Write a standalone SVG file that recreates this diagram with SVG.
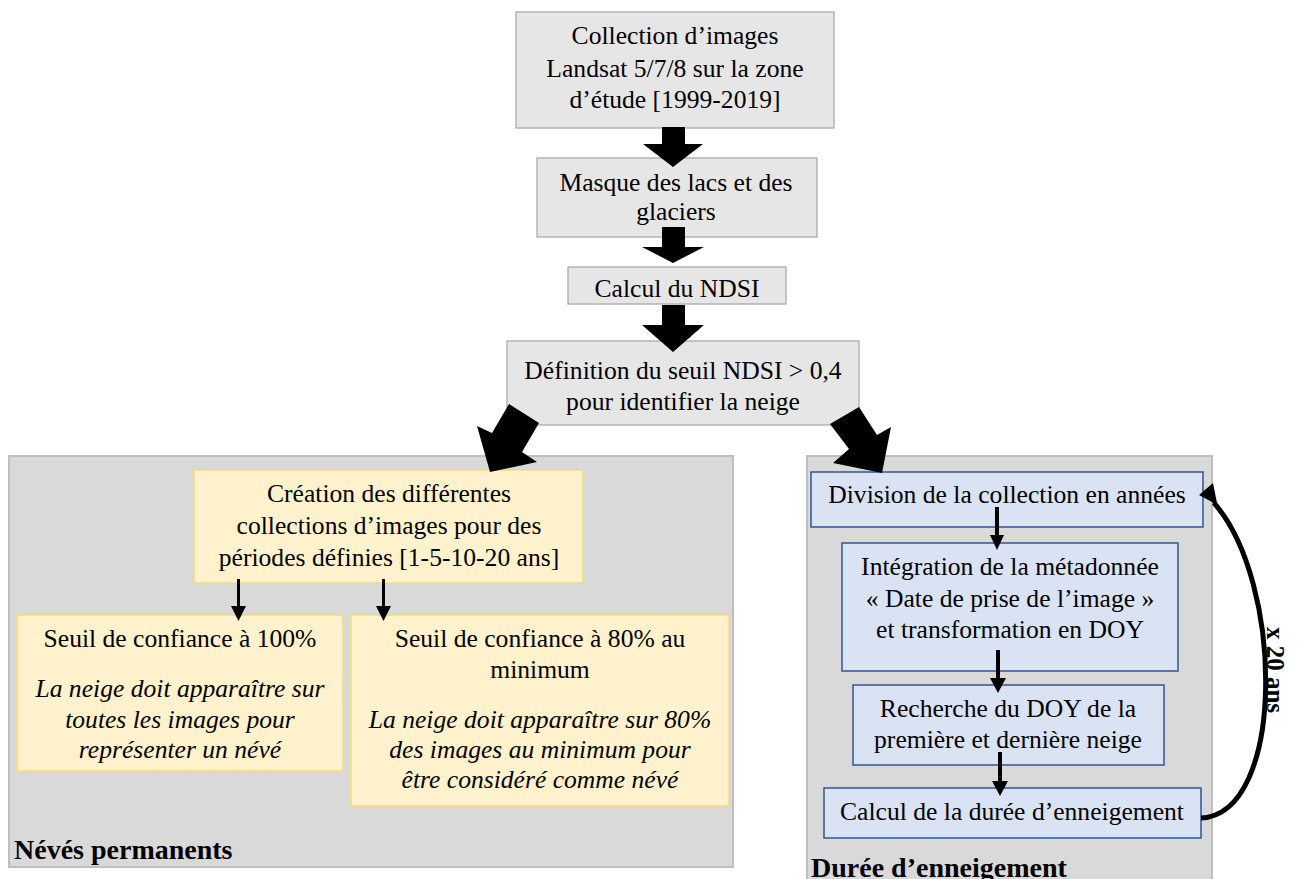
<svg xmlns="http://www.w3.org/2000/svg" width="1299" height="879" viewBox="0 0 1299 879">
<style>
text{font-family:"Liberation Serif","Times New Roman",serif;font-size:25.6px;fill:#000;text-anchor:middle}
.it{font-style:italic}
.b{font-weight:bold;font-size:28px;text-anchor:start}
.grey{fill:#e7e6e6;stroke:#a6a6a6;stroke-width:1.2}
.yel{fill:#fff2cc;stroke:#f9d977;stroke-width:1.5}
.blu{fill:#dae3f3;stroke:#2f5597;stroke-width:1.5}
.panel{fill:#d9d9d9;stroke:#bfbfbf;stroke-width:2}
.blk{fill:#000}
</style>
<rect width="1299" height="879" fill="#fff"/>
<g id="panel-neves">
<rect class="panel" x="9" y="456" width="724" height="411"/>
<text class="b" x="14" y="859">Névés permanents</text>
</g>
<g id="panel-duree">
<rect class="panel" x="807" y="456" width="405" height="440"/>
<text class="b" x="811" y="877">Durée d’enneigement</text>
</g>
<g id="n1">
<rect class="grey" x="516" y="12" width="318" height="116"/>
<text x="675" y="44">Collection d’images</text>
<text x="675" y="77">Landsat 5/7/8 sur la zone</text>
<text x="675" y="108">d’étude [1999-2019]</text>
</g>
<g id="n2">
<rect class="grey" x="537" y="158" width="280" height="79"/>
<text x="676" y="191">Masque des lacs et des</text>
<text x="676" y="220">glaciers</text>
</g>
<g id="n3">
<rect class="grey" x="568" y="267" width="218" height="37"/>
<text x="677" y="297">Calcul du NDSI</text>
</g>
<g id="n4">
<rect class="grey" x="507" y="341" width="352" height="84"/>
<text x="683" y="379">Définition du seuil NDSI &gt; 0,4</text>
<text x="683" y="410">pour identifier la neige</text>
</g>
<g id="n5">
<rect class="yel" x="194" y="470" width="389" height="113"/>
<text x="389" y="502">Création des différentes</text>
<text x="389" y="534">collections d’images pour des</text>
<text x="389" y="566">périodes définies [1-5-10-20 ans]</text>
</g>
<g id="n6">
<rect class="yel" x="17" y="615" width="326" height="156"/>
<text x="180" y="647">Seuil de confiance à 100%</text>
<text class="it" x="180" y="697">La neige doit apparaître sur</text>
<text class="it" x="180" y="728">toutes les images pour</text>
<text class="it" x="180" y="758">représenter un névé</text>
</g>
<g id="n7">
<rect class="yel" x="351" y="615" width="378" height="191"/>
<text x="540" y="647">Seuil de confiance à 80% au</text>
<text x="540" y="678">minimum</text>
<text class="it" x="540" y="728">La neige doit apparaître sur 80%</text>
<text class="it" x="540" y="758">des images au minimum pour</text>
<text class="it" x="540" y="788">être considéré comme névé</text>
</g>
<g id="n8">
<rect class="blu" x="811" y="472" width="392" height="55"/>
<text x="1007" y="503">Division de la collection en années</text>
</g>
<g id="n9">
<rect class="blu" x="842" y="543" width="336" height="128"/>
<text x="1010" y="575">Intégration de la métadonnée</text>
<text x="1010" y="607">« Date de prise de l’image »</text>
<text x="1010" y="638">et transformation en DOY</text>
</g>
<g id="n10">
<rect class="blu" x="853" y="685" width="311" height="80"/>
<text x="1008" y="717">Recherche du DOY de la</text>
<text x="1008" y="748">première et dernière neige</text>
</g>
<g id="n11">
<rect class="blu" x="824" y="788" width="377" height="50"/>
<text x="1012" y="820">Calcul de la durée d’enneigement</text>
</g>
<g id="connectors">
<polygon class="blk" points="662,127 685,127 685,144 703,144 673,167 643,144 662,144"/>
<polygon class="blk" points="662,227 685,227 685,247 704,247 673,263 642,247 662,247"/>
<polygon class="blk" points="662,305 685,305 685,325 704,325 673,352 642,325 662,325"/>
<polygon class="blk" points="509,404 539,423 522,452 537,462 490,472 477,426 492,433"/>
<polygon class="blk" points="830,424 859,407 877,435 891,427 882,473 833,463 849,449"/>
<polygon class="blk" points="237,579 240,579 240,606 246,606 238.5,621 231,606 237,606"/>
<polygon class="blk" points="382,579 385,579 385,606 391,606 383.5,621 376,606 382,606"/>
<polygon class="blk" points="995,507 999,507 999,535 1004,535 997,550 990,535 995,535"/>
<polygon class="blk" points="996,650 1000,650 1000,678 1006,678 998,693 990,678 996,678"/>
<polygon class="blk" points="998,752 1002,752 1002,781 1008,781 1000,796 992,781 998,781"/>
<path d="M1201,818 C1286,814 1284,582 1214,503" fill="none" stroke="#000" stroke-width="5"/>
<polygon class="blk" points="1199,495 1213,483 1219,513 1212,502"/>
<text class="b" style="font-size:25px;text-anchor:middle" transform="translate(1267,670) rotate(90)">x 20 ans</text>
</g>
</svg>
